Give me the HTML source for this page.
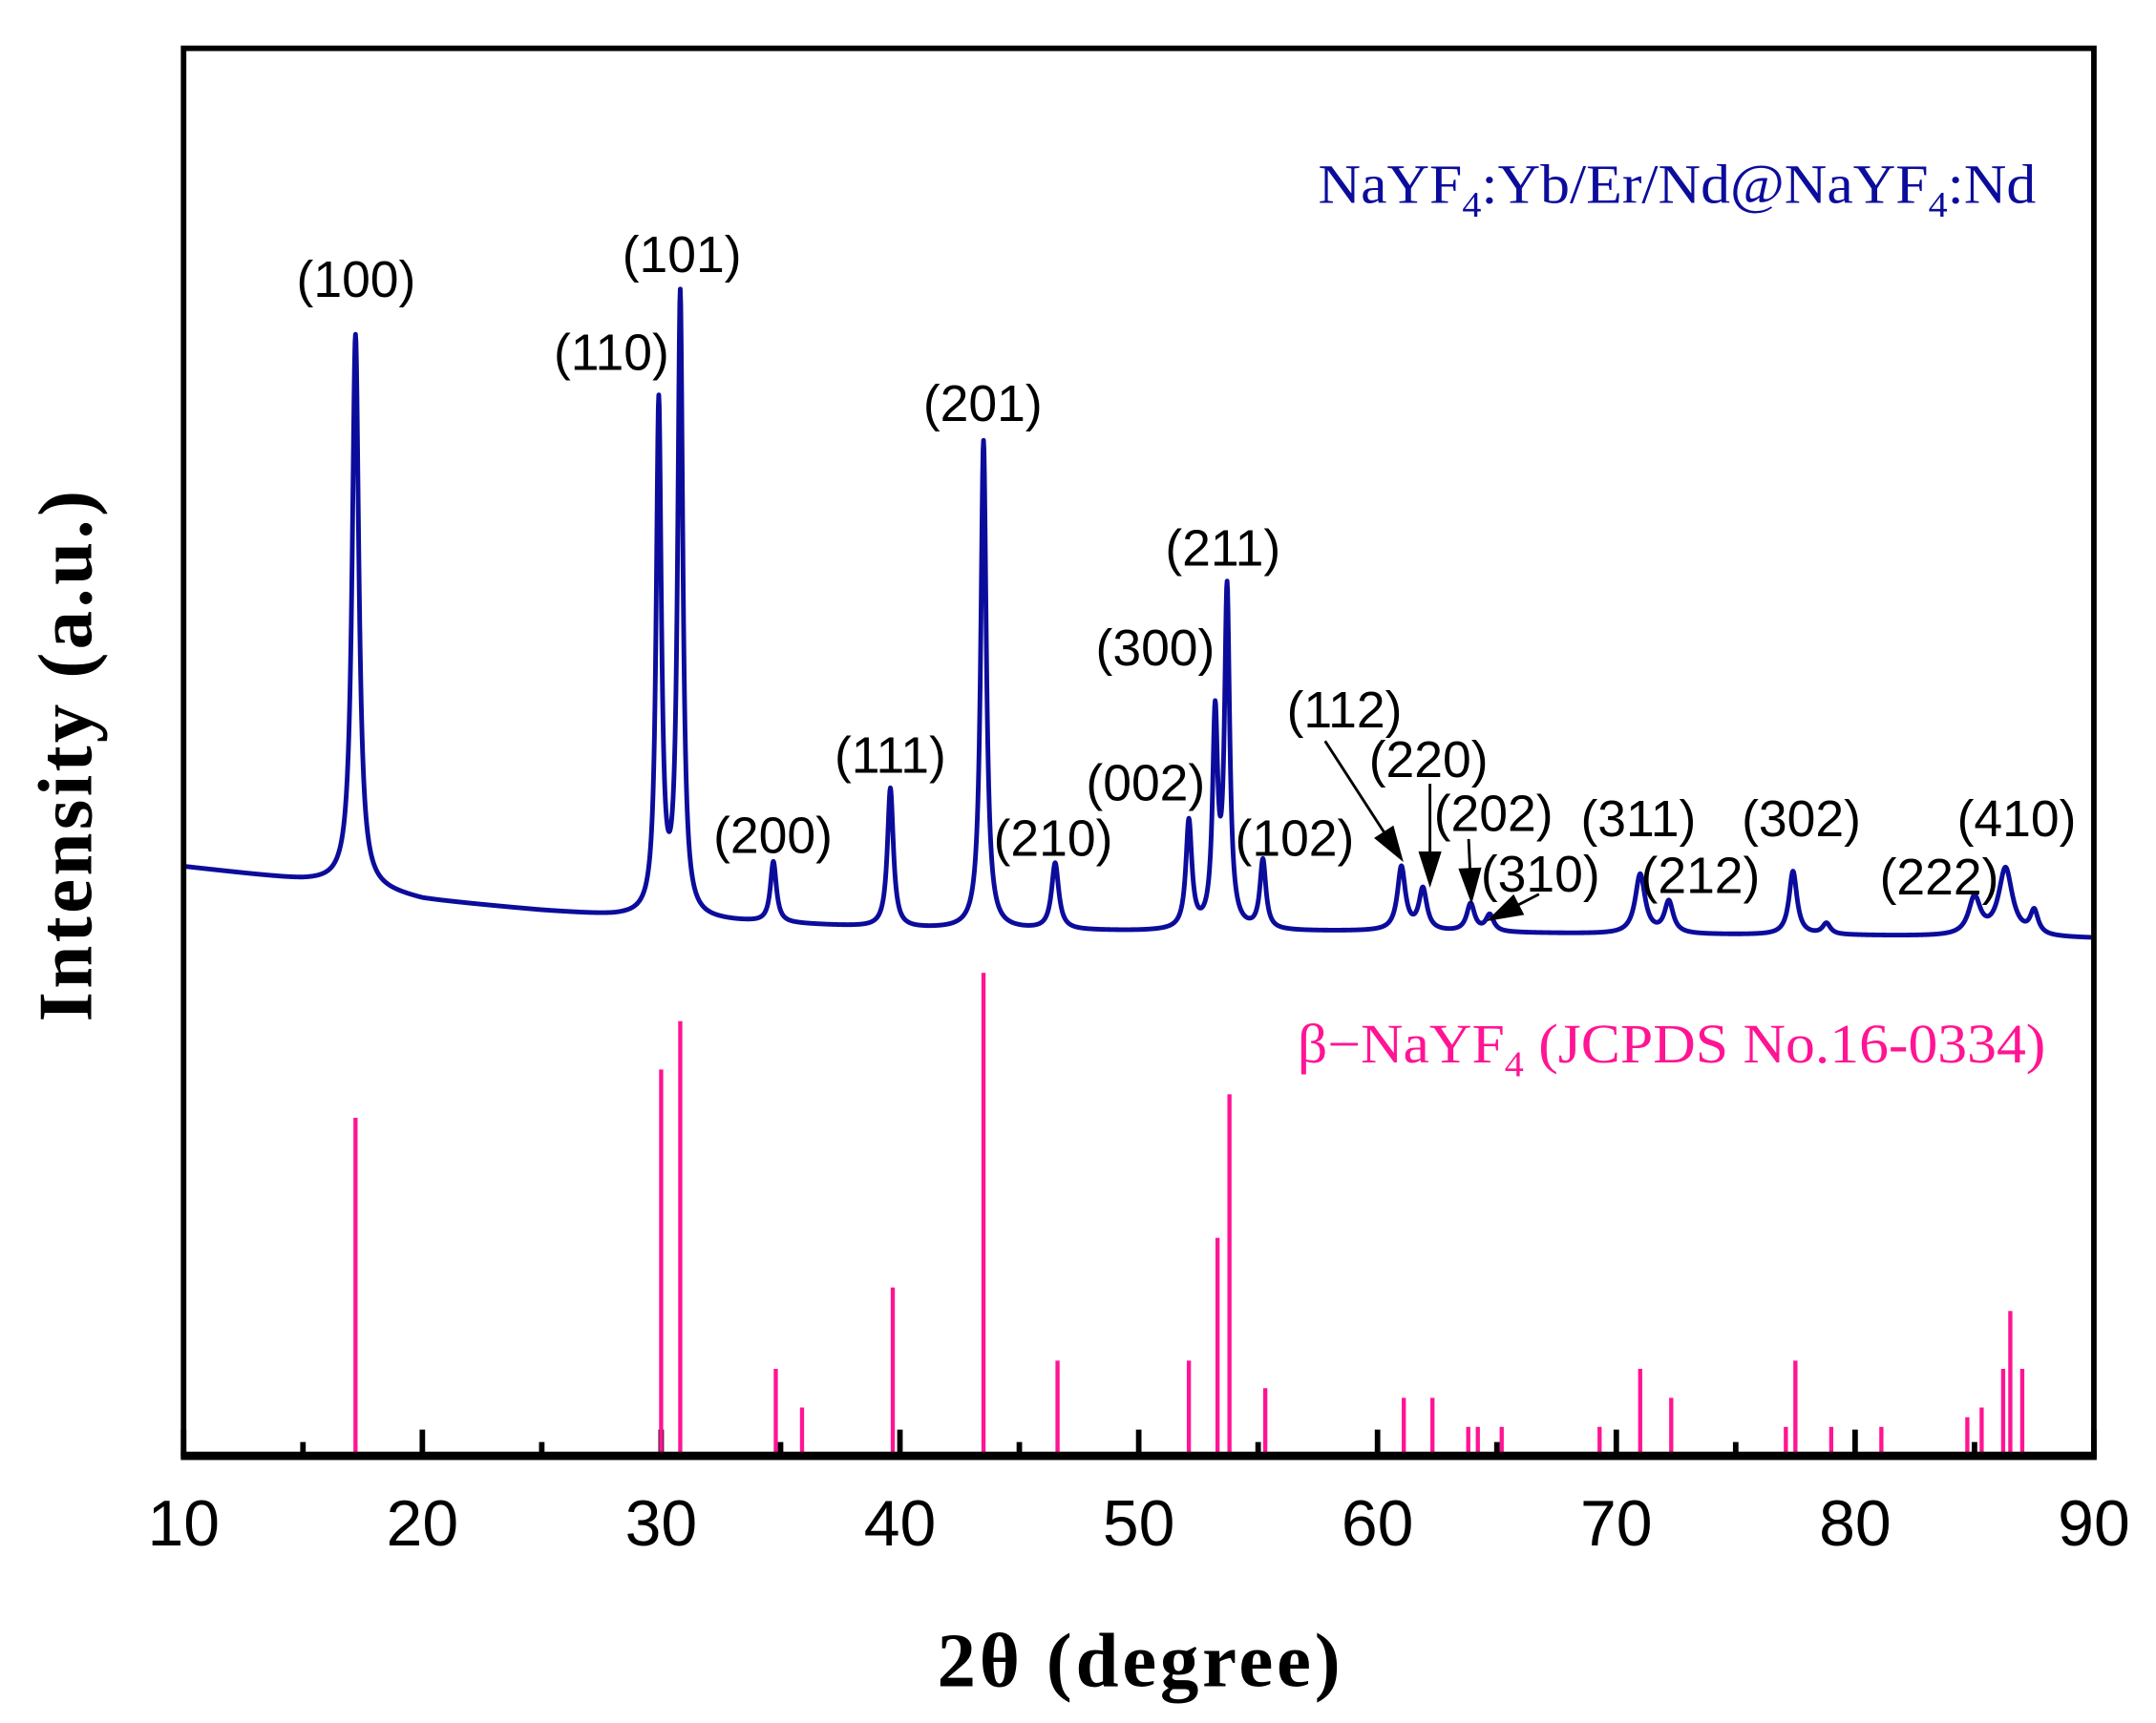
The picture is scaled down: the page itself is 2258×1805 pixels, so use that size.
<!DOCTYPE html>
<html><head><meta charset="utf-8"><style>
html,body{margin:0;padding:0;background:#fff}
svg{display:block}
.lbl{font-family:"Liberation Sans",sans-serif;font-size:37px;fill:#000}
</style></head><body>
<svg id="chart" width="2258" height="1805" viewBox="0 0 1562 1248.6" xmlns="http://www.w3.org/2000/svg">
<rect width="1562" height="1249" fill="#fff"/>
<g id="ticks"></g>
<g id="bars"></g>
<path id="curve" fill="none" stroke="#0c0c9c" stroke-width="3.4" stroke-linejoin="round"/>
<rect x="133" y="35" width="1384" height="1020" fill="none" stroke="#000" stroke-width="4"/>
<line x1="131" y1="1055" x2="1519" y2="1055" stroke="#000" stroke-width="6"/>
<g id="ticklabels"></g>
<text x="825" y="1222" text-anchor="middle" font-family="'Liberation Serif',serif" font-weight="bold" font-size="56" textLength="292">2θ (degree)</text>
<text transform="translate(66,548) rotate(-90)" text-anchor="middle" font-family="'Liberation Serif',serif" font-weight="bold" font-size="56" textLength="385">Intensity (a.u.)</text>
<text x="955" y="147" font-family="'Liberation Serif',serif" font-size="40" fill="#0c0c9c" textLength="520" lengthAdjust="spacingAndGlyphs">NaYF<tspan font-size="26" dy="10">4</tspan><tspan dy="-10">:Yb/Er/Nd@NaYF</tspan><tspan font-size="26" dy="10">4</tspan><tspan dy="-10">:Nd</tspan></text>
<text x="940" y="770" font-family="'Liberation Serif',serif" font-size="40" fill="#ff1493" textLength="542" lengthAdjust="spacingAndGlyphs">β−NaYF<tspan font-size="26" dy="10">4</tspan><tspan dy="-10"> (JCPDS No.16-0334)</tspan></text>
<g id="labels"></g>
<g id="arrows" stroke="#000" stroke-width="2" fill="#000"></g>
</svg>
<script>
// data
const baseX = [10,15,16.5,18,20,25,28,33,40,50,60,70,80,90];
const baseI = [427,417,415,410,403,395,391,387,382,380,380,378,377,375];
const peakPos = [17.2,29.9,30.8,34.7,39.6,43.5,46.5,52.1,53.2,53.7,55.2,61.0,61.9,63.9,64.7,71.0,72.2,77.4,78.8,85.0,86.3,87.5];
const peakAmp = [400,370,449,44,101,354,48,78,150,243,50,46,30,20,12,43,23,46,8,27,49,17];
const peakWid = [0.17,0.13,0.13,0.15,0.15,0.14,0.18,0.15,0.13,0.13,0.15,0.2,0.2,0.2,0.2,0.25,0.22,0.2,0.2,0.3,0.35,0.2];
const refPos = [17.2,30.0,30.8,34.8,35.9,39.7,43.5,46.6,52.1,53.3,53.8,55.3,61.1,62.3,63.8,64.2,65.2,69.3,71.0,72.3,77.1,77.5,79.0,81.1,84.7,85.3,86.2,86.5,87.0];
const refI = [245,280,315,63,35,122,350,69,69,158,262,49,42,42,21,21,21,21,63,42,21,69,21,21,28,35,63,105,63];
const tickVals = [10,20,30,40,50,60,70,80,90];
const minorVals = [15,25,35,45,55,65,75,85];
const labelText = ["(100)","(110)","(101)","(200)","(111)","(201)","(210)","(002)","(300)","(211)","(102)","(112)","(220)","(202)","(310)","(311)","(212)","(302)","(222)","(410)"];
const labelX = [258,443,494,560,645,712,763,830,837,886,938,974,1035,1082,1116,1187,1232,1305,1405,1461];
const labelY = [215,268,197,618,560,305,620,580,482,410,620,527,563,602,646,606,647,606,648,606];

const NS="http://www.w3.org/2000/svg";
const xs = v => 133 + (v-10)*(1384/80);
const ys = v => 1055 - v;
function base(x){for(let i=0;i<baseX.length-1;i++){if(x<=baseX[i+1]){const t=(x-baseX[i])/(baseX[i+1]-baseX[i]);return baseI[i]+t*(baseI[i+1]-baseI[i]);}}return baseI[baseI.length-1];}
let d="";
for(let x=10;x<=90.0001;x+=0.02){
  let v=base(x);
  for(let k=0;k<peakPos.length;k++){const g=peakWid[k],dx=x-peakPos[k];v+=peakAmp[k]*g*g/(dx*dx+g*g);}
  d+=(d?"L":"M")+xs(x).toFixed(2)+" "+ys(v).toFixed(2);
}
const curve=document.getElementById('curve');
curve.setAttribute('d',d);
const bars=document.getElementById('bars');
refPos.forEach((p,i)=>{
  const l=document.createElementNS(NS,'line');
  
  
  l.setAttribute('x1',xs(p));l.setAttribute('x2',xs(p));
  l.setAttribute('y1',ys(0));l.setAttribute('y2',ys(refI[i]));
  l.setAttribute('stroke','#ff1493');l.setAttribute('stroke-width','3');
  bars.appendChild(l);
});
const ticks=document.getElementById('ticks');
tickVals.forEach(v=>{
  const l=document.createElementNS(NS,'line');
  
  
  l.setAttribute('x1',xs(v));l.setAttribute('x2',xs(v));l.setAttribute('y1',1055);l.setAttribute('y2',1036);
  l.setAttribute('stroke','#000');l.setAttribute('stroke-width','4');
  ticks.appendChild(l);
});
minorVals.forEach(v=>{
  const l=document.createElementNS(NS,'line');
  
  
  l.setAttribute('x1',xs(v));l.setAttribute('x2',xs(v));l.setAttribute('y1',1055);l.setAttribute('y2',1045);
  l.setAttribute('stroke','#000');l.setAttribute('stroke-width','4');
  ticks.appendChild(l);
});
const tl=document.getElementById('ticklabels');
tickVals.forEach(v=>{
  const t=document.createElementNS(NS,'text');
  
  
  t.setAttribute('x',xs(v));t.setAttribute('y',1120);t.setAttribute('text-anchor','middle');
  t.setAttribute('font-family','"Liberation Sans",sans-serif');t.setAttribute('font-size','47');
  t.textContent=v;tl.appendChild(t);
});
const lg=document.getElementById('labels');
labelText.forEach((s,i)=>{
  const t=document.createElementNS(NS,'text');
  
  
  t.setAttribute('class','lbl');t.setAttribute('x',labelX[i]);t.setAttribute('y',labelY[i]);t.setAttribute('text-anchor','middle');
  t.textContent=s;lg.appendChild(t);
});
const ar=document.getElementById('arrows');
[[960,537,1015,622],[1036,568,1036,640],[1064,608,1066,652],[1115,648,1080,666]].forEach(a=>{
  const [x1,y1,x2,y2]=a;const ang=Math.atan2(y2-y1,x2-x1);const L=22,W=7;
  const bx=x2-L*Math.cos(ang),by=y2-L*Math.sin(ang);
  const l=document.createElementNS(NS,'line');
  
  
  l.setAttribute('x1',x1);l.setAttribute('y1',y1);l.setAttribute('x2',bx);l.setAttribute('y2',by);ar.appendChild(l);
  const p=document.createElementNS(NS,'polygon');
  
  
  const px=-Math.sin(ang)*W,py=Math.cos(ang)*W;
  p.setAttribute('points',`${x2},${y2} ${bx+px},${by+py} ${bx-px},${by-py}`);ar.appendChild(p);
});
</script>
</body></html>
